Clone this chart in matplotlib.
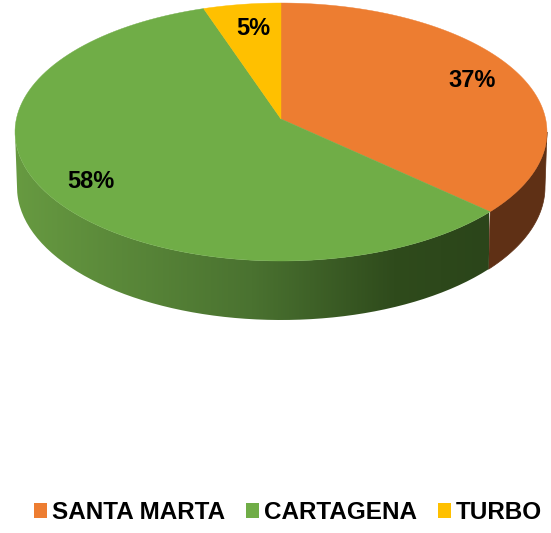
import numpy as np
from matplotlib import pyplot as plt
from matplotlib.colors import LinearSegmentedColormap
from matplotlib.patches import Patch, PathPatch, Polygon
from matplotlib.path import Path

categories = ["SANTA MARTA", "CARTAGENA", "TURBO"]
# slice sizes as drawn, the printed labels are rounded a bit differently
shares = [35.6, 59.7, 4.7]
value_labels = ["37%", "58%", "5%"]
colors = ["#ED7D31", "#70AD47", "#FFC000"]

# ellipse geometry in pixels, y goes down
cx, cy, rx, ry = 281, 132, 266, 129
bx, by, brx, bry = 281, 187, 264, 133
# perspective puts the slice apex above the ellipse centre
apex = (281, 119)
label_rx = [0.80, 0.868, 0.72]
label_ry = [0.69, 0.855, 0.71]


def arc(t1, t2, n=120):
    t = np.radians(np.linspace(t1, t2, n))
    return np.column_stack([cx + rx * np.cos(t), cy + ry * np.sin(t)])


def wall_path(t1, t2):
    t = np.radians(np.linspace(t1, t2, 120))
    bottom = np.column_stack([bx + brx * np.cos(t), by + bry * np.sin(t)])
    return np.vstack([arc(t1, t2), bottom[::-1]])


fig = plt.figure(figsize=(5.51, 5.33), dpi=100)
ax = fig.add_axes([0, 0, 1, 1])

# angles run clockwise on screen because of the flipped y axis, slices start at 12 o'clock
edges = -90 + np.cumsum([0] + shares) * 3.6

# side wall, only the front half shows
ax.add_patch(Polygon(wall_path(0, edges[1]), closed=True, fc="#5F3015", ec="#5F3015", lw=0.5, zorder=1))

green_cmap = LinearSegmentedColormap.from_list("wall", [(0, "#679A41"), (0.5, "#4A7230"), (0.8, "#2F4B1C"), (1, "#2B451A")])
gradient = np.linspace(0, 1, 256).reshape(1, -1)
im = ax.imshow(gradient, cmap=green_cmap, extent=[15, 489, 330, 120], aspect="auto", zorder=1)
green_wall = PathPatch(Path(wall_path(edges[1], 180)), transform=ax.transData, fc="none", ec="none")
ax.add_patch(green_wall)
im.set_clip_path(green_wall)

ax.set_xlim(0, 551)
ax.set_ylim(533, 0)
ax.axis("off")

# top face, apex shifted for the perspective
for i, color in enumerate(colors):
    pts = np.vstack([[apex], arc(edges[i], edges[i + 1])])
    ax.add_patch(Polygon(pts, closed=True, fc=color, ec=color, lw=0.3, zorder=2))

for i, label in enumerate(value_labels):
    mid = np.radians((edges[i] + edges[i + 1]) / 2)
    ax.text(apex[0] + label_rx[i] * rx * np.cos(mid), apex[1] + label_ry[i] * ry * np.sin(mid), label,
            family="Liberation Sans", fontweight="bold", fontsize=17, ha="center", va="center", zorder=3)

handles = [Patch(fc=c, ec="none") for c in colors]
ax.legend(handles, categories, loc="lower center", bbox_to_anchor=(0.523, -0.015), ncol=3, frameon=False,
          prop={"family": "Liberation Sans", "weight": "bold", "size": 17.5},
          handlelength=0.55, handleheight=0.55, handletextpad=0.2, columnspacing=0.85, borderaxespad=0.3)

fig.savefig("out.png", dpi=100)
